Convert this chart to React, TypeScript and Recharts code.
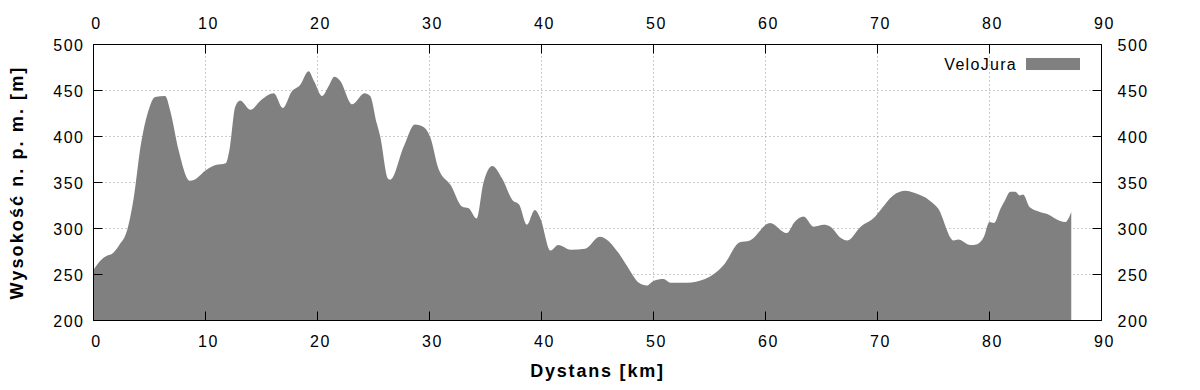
import React from "react";
import {
  ComposedChart,
  Area,
  XAxis,
  YAxis,
  CartesianGrid,
  Legend,
} from "recharts";

// elevation profile
const distanceKm = [
  0, 0.7, 1.3, 1.6, 2.3, 3.0, 3.6, 4.2, 4.9, 5.5, 6.4, 6.85, 7.6, 8.6, 9.0,
  10.0, 10.9, 11.8, 12.2, 12.65, 13.1, 14.0, 15.0, 16.1, 16.9, 17.7, 18.45,
  19.2, 19.7, 20.4, 21.0, 21.5, 22.0, 23.1, 24.2, 24.7, 25.3, 25.6, 26.3,
  26.5, 27.7, 28.7, 29.5, 30.1, 30.8, 31.9, 32.9, 33.5, 34.2, 34.8, 35.6,
  36.5, 37.4, 38.0, 38.7, 39.4, 39.9, 40.8, 41.5, 42.6, 43.9, 45.2, 46.9,
  47.6, 48.7, 49.4, 50.0, 50.9, 51.5, 53.0, 54.6, 56.25, 57.7, 58.6, 60.4,
  61.9, 62.6, 63.4, 64.3, 65.2, 65.8, 66.7, 67.3, 68.5, 69.8, 70.2, 71.4,
  72.5, 73.2, 74.7, 75.4, 76.8, 77.2, 78.3, 78.9, 79.5, 80.0, 80.4, 81.0,
  81.4, 81.85, 82.3, 82.7, 83.0, 83.6, 84.5, 85.3, 85.7, 86.8, 86.9, 87.3,
];
const elevationM = [
  255, 266, 271, 272, 282, 298, 334, 389, 428, 443, 444, 428, 385, 352, 353,
  363, 369, 371, 390, 432, 439, 429, 440, 447, 431, 449, 456,
  471, 460, 444, 455, 465, 461, 435, 447, 444, 414, 400, 354,
  353, 389, 413, 410, 398, 365, 347, 324, 322, 311, 349, 368,
  354, 331, 326, 304, 320, 311, 276, 282, 277, 278, 291, 273,
  260, 241, 238, 243, 245, 241, 241, 245, 260, 285, 287, 306,
  295, 307, 313, 302, 304, 302, 290, 287, 302, 313, 319, 336,
  341, 339, 330, 322, 287, 288, 282, 283, 291, 307, 306, 322,
  331, 340, 340, 336, 337, 323, 318, 315, 312, 307, 308, 318,
];
const xTicks = [0, 10, 20, 30, 40, 50, 60, 70, 80, 90];
const yTicks = [200, 250, 300, 350, 400, 450, 500];
const seriesName = "VeloJura";

const data = distanceKm.map((km, i) => ({ km, m: elevationM[i] }));

const FONT = "'Liberation Sans', Arial, Helvetica, sans-serif";
const TICK_LEN = 9;

const makeTick = (side: "top" | "bottom" | "left" | "right") => (props: any) => {
  const { x, y, payload } = props;
  const label = String(payload.value);
  const common = {
    fontFamily: FONT,
    fontSize: 16,
    letterSpacing: 1.5,
    fill: "#000",
  };
  if (side === "bottom") {
    return (
      <g>
        <line x1={x} y1={y} x2={x} y2={y - TICK_LEN} stroke="#000" />
        <text x={x + 3} y={y + 26} textAnchor="middle" {...common}>{label}</text>
      </g>
    );
  }
  if (side === "top") {
    return (
      <g>
        <line x1={x} y1={y} x2={x} y2={y + TICK_LEN} stroke="#000" />
        <text x={x + 3} y={y - 16} textAnchor="middle" {...common}>{label}</text>
      </g>
    );
  }
  if (side === "left") {
    return (
      <g>
        <line x1={x} y1={y} x2={x + TICK_LEN} y2={y} stroke="#000" />
        <text x={x - 9} y={y + 6} textAnchor="end" {...common}>{label}</text>
      </g>
    );
  }
  return (
    <g>
      <line x1={x} y1={y} x2={x - TICK_LEN} y2={y} stroke="#000" />
      <text x={x + 16} y={y + 6} textAnchor="start" {...common}>{label}</text>
    </g>
  );
};

const renderLegend = () => (
  <div style={{ position: "relative", width: 200, height: 30 }}>
    <div
      style={{
        position: "absolute",
        right: 83,
        top: 7,
        fontFamily: FONT,
        fontSize: 16,
        lineHeight: "16px",
        letterSpacing: 1.3,
        whiteSpace: "nowrap",
        color: "#000",
      }}
    >
      {seriesName}
    </div>
    <div
      style={{
        position: "absolute",
        left: 126,
        top: 8,
        width: 54,
        height: 12,
        background: "#808080",
      }}
    />
  </div>
);

const xTitle = (props: any) => {
  const { viewBox } = props;
  return (
    <text
      x={viewBox.x + viewBox.width / 2}
      y={viewBox.y + 56}
      textAnchor="middle"
      fontFamily={FONT}
      fontSize={18}
      fontWeight="bold"
      letterSpacing={1.8}
    >
      Dystans [km]
    </text>
  );
};

const yTitle = (props: any) => {
  const { viewBox } = props;
  const cx = 23;
  const cy = viewBox.y + viewBox.height / 2;
  return (
    <text
      x={cx}
      y={cy}
      transform={`rotate(-90 ${cx} ${cy})`}
      textAnchor="middle"
      fontFamily={FONT}
      fontSize={18}
      fontWeight="bold"
      letterSpacing={2.1}
    >
      Wysokość n. p. m. [m]
    </text>
  );
};

export default function App() {
  return (
    <div
      style={{
        position: "absolute",
        left: 0,
        top: 0,
        width: 1200,
        height: 390,
        background: "#fff",
      }}
    >
      <ComposedChart
        width={1200}
        height={390}
        data={data}
        margin={{ top: 0, right: 0, bottom: 0, left: 0 }}
      >
        <CartesianGrid stroke="#999" strokeDasharray="1 3" />
        <XAxis
          dataKey="km"
          type="number"
          domain={[0, 90]}
          ticks={xTicks}
          height={69.5}
          axisLine={{ stroke: "#000" }}
          tickLine={false}
          tickSize={0}
          tickMargin={0}
          tick={makeTick("bottom")}
          interval={0}
          label={xTitle}
        />
        <XAxis
          xAxisId="top"
          dataKey="km"
          orientation="top"
          type="number"
          domain={[0, 90]}
          allowDataOverflow
          ticks={xTicks}
          height={44.5}
          axisLine={{ stroke: "#000" }}
          tickLine={false}
          tickSize={0}
          tickMargin={0}
          tick={makeTick("top")}
          interval={0}
        />
        <YAxis
          dataKey="m"
          type="number"
          domain={[200, 500]}
          ticks={yTicks}
          width={93.5}
          axisLine={{ stroke: "#000" }}
          tickLine={false}
          tickSize={0}
          tickMargin={0}
          tick={makeTick("left")}
          interval={0}
          label={yTitle}
        />
        <YAxis
          yAxisId="right"
          dataKey="m"
          orientation="right"
          type="number"
          domain={[200, 500]}
          allowDataOverflow
          ticks={yTicks}
          width={98.5}
          axisLine={{ stroke: "#000" }}
          tickLine={false}
          tickSize={0}
          tickMargin={0}
          tick={makeTick("right")}
          interval={0}
        />
        <Legend
          layout="vertical"
          align="center"
          verticalAlign="middle"
          content={renderLegend}
          wrapperStyle={{ position: "absolute", left: 900, top: 50, width: 200, height: 30 }}
        />
        <Area
          type="monotone"
          dataKey="m"
          name={seriesName}
          fill="#808080"
          fillOpacity={1}
          stroke="none"
          baseValue={200}
          isAnimationActive={false}
        />
      </ComposedChart>
    </div>
  );
}
